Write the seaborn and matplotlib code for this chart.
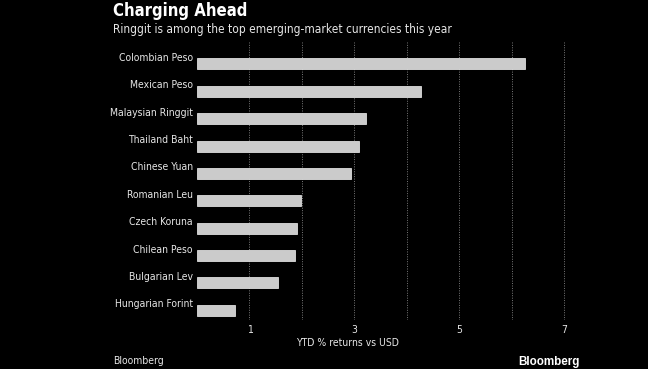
import matplotlib
matplotlib.use("Agg")
import matplotlib.pyplot as plt
import matplotlib.transforms as mtransforms
import pandas as pd
import seaborn as sns

# data
currencies = ["Colombian Peso", "Mexican Peso", "Malaysian Ringgit", "Thailand Baht",
              "Chinese Yuan", "Romanian Leu", "Czech Koruna", "Chilean Peso",
              "Bulgarian Lev", "Hungarian Forint"]
ytd_returns = [6.25, 4.27, 3.22, 3.08, 2.93, 1.98, 1.90, 1.87, 1.54, 0.73]
grid_ticks = [1, 2, 3, 4, 5, 6, 7]
tick_labels = ["1", "", "3", "", "5", "", "7"]

df = pd.DataFrame({"currency": currencies, "ret": ytd_returns})

sns.set_style("dark")
plt.rcParams["font.family"] = ["DejaVu Sans"]
plt.rcParams["font.stretch"] = "condensed"

bg = "#000000"
txt = "#e6e6e6"
bar_col = "#cbcbcb"

fig = plt.figure(figsize=(6.48, 3.69), dpi=100, facecolor=bg)
ax = fig.add_axes([0.304, 0.133, 0.591, 0.753])
ax.set_facecolor(bg)

sns.barplot(data=df, x="ret", y="currency", orient="h", color=bar_col,
            width=0.4, edgecolor="#dddddd", linewidth=0.6, saturation=1, ax=ax)

ax.set_xlim(0, 7.3)
ax.set_ylim(9.35, -0.8)
for s in ax.spines.values():
    s.set_visible(False)

ax.set_xticks(grid_ticks)
ax.set_xticklabels(tick_labels)
ax.grid(axis="x", color="#7a7a7a", linestyle=(0, (1, 1.5)), linewidth=0.7)
ax.grid(axis="y", visible=False)
ax.set_axisbelow(True)
ax.tick_params(axis="both", length=0, colors=txt, labelsize=7.5)
ax.tick_params(axis="x", pad=4)
ax.tick_params(axis="y", pad=3)

# labels sit a little above the bar centre
shift = mtransforms.ScaledTranslation(0, 0.07, fig.dpi_scale_trans)
for lab in ax.get_yticklabels():
    lab.set_transform(lab.get_transform() + shift)

ax.set_ylabel("")
ax.set_xlabel("YTD % returns vs USD", color=txt, fontsize=7.5)
ax.xaxis.set_label_coords(0.394, -0.083)
ax.xaxis.label.set_va("center")

fig.text(0.174, 0.995, "Charging Ahead", color="#ffffff", fontsize=12,
         fontweight="bold", va="top", ha="left")
fig.text(0.174, 0.92, "Ringgit is among the top emerging-market currencies this year",
         color=txt, fontsize=8.6, va="center", ha="left")
fig.text(0.174, 0.022, "Bloomberg", color=txt, fontsize=7.5, va="center", ha="left")
fig.text(0.895, 0.019, "Bloomberg", color="#ffffff", fontsize=8.4, fontweight="bold",
         va="center", ha="right", family=["Liberation Sans", "DejaVu Sans"],
         stretch="normal")

fig.savefig("out.png", dpi=100, facecolor=bg)
